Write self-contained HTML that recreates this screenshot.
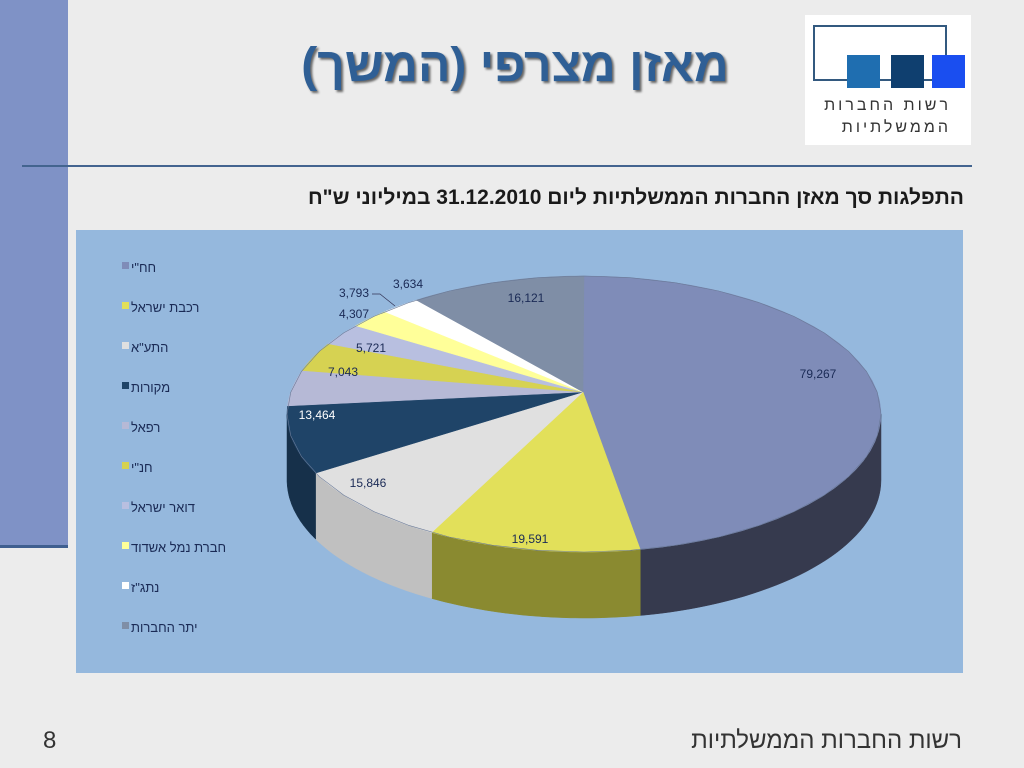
<!DOCTYPE html>
<html><head><meta charset="utf-8">
<style>
html,body{margin:0;padding:0}
body{width:1024px;height:768px;position:relative;overflow:hidden;background:#ececec;font-family:"Liberation Sans","DejaVu Sans",sans-serif}
.bar{position:absolute;left:0;top:0;width:68px;height:545px;background:#7f92c6;border-bottom:3px solid #3f5f8f}
.title{position:absolute;left:250px;top:38px;width:530px;text-align:center;font-size:48px;font-weight:bold;color:#2f5f95;direction:rtl;text-shadow:2px 2px 2px #666;font-family:"Liberation Sans Narrow","Liberation Sans",sans-serif}
.hr{position:absolute;left:22px;top:165px;width:950px;height:2px;background:#43648f}
.sub{position:absolute;right:60px;top:186px;font-size:21px;font-weight:bold;color:#1a1a1a;direction:rtl;white-space:nowrap}
.logo{position:absolute;left:805px;top:15px;width:166px;height:130px;background:#fff}
.foot{position:absolute;right:62px;top:727px;font-size:24px;color:#333;direction:rtl}
.num{position:absolute;left:43px;top:727px;font-size:24px;color:#333}
</style></head><body>
<div class="bar"></div>
<div class="title">מאזן מצרפי (המשך)</div>
<div class="logo">
<div style="position:absolute;left:8px;top:10px;width:130px;height:52px;border:2px solid #33597f"></div>
<div style="position:absolute;left:42px;top:40px;width:33px;height:33px;background:#1f6eb0"></div>
<div style="position:absolute;left:86px;top:40px;width:33px;height:33px;background:#0f3f6f"></div>
<div style="position:absolute;left:127px;top:40px;width:33px;height:33px;background:#1a4ef0"></div>
<div style="position:absolute;left:0px;top:80px;width:146px;text-align:right;direction:rtl;font-size:16px;letter-spacing:3px;color:#333;line-height:22px;white-space:nowrap">רשות החברות<br>הממשלתיות</div>
</div>
<div class="hr"></div>
<div class="sub">התפלגות סך מאזן החברות הממשלתיות ליום 31.12.2010 במיליוני ש"ח</div>
<svg id="c" width="1024" height="768" style="position:absolute;left:0;top:0"></svg>
<div class="num">8</div>
<div class="foot">רשות החברות הממשלתיות</div>
<script>
(function(){
var vals=[79267,19591,15846,13464,7043,5721,4307,3793,3634,16121];
var names=['חח"י','רכבת ישראל','התע"א ','מקורות','רפאל','חנ"י','דואר ישראל','חברת נמל אשדוד','נתג"ז','יתר החברות'];
var cols=['#7f8cb8','#e2e05a','#e0e0e0','#1f4468','#b6b9d6','#d6d252','#b8bfe0','#ffff99','#ffffff','#7f8ea6'];
var side=['#363a4e','#8a8a30','#c0c0c0','#16304a','#8a8da8','#8a8730','#8d93b0','#b0b060','#d0d0d0','#505868'];
var tot=vals.reduce(function(a,b){return a+b},0);
var cx=584,cy=414,rx=297,ry=138,D=66,ax=583,ay=392;
function P(t,dy){t=t*Math.PI/180;return [cx+rx*Math.sin(t),cy-ry*Math.cos(t)+(dy||0)];}
var s='<rect x="76" y="230" width="887" height="443" fill="#95b8dd"/>';
var angs=[0],c=0;vals.forEach(function(v){c+=v;angs.push(c/tot*360);});
function arc(a1,a2,dy){var p='',n=40;for(var i=0;i<=n;i++){var q=P(a1+(a2-a1)*i/n,dy);p+=(i?'L':'')+q[0].toFixed(1)+','+q[1].toFixed(1);}return p;}
for(var i=0;i<10;i++){var a1=Math.max(angs[i],90),a2=Math.min(angs[i+1],270);if(a2<=a1)continue;
var tp=arc(a1,a2,0),bt=arc(a2,a1,D);
s+='<path d="M'+tp+'L'+bt+'Z" fill="'+side[i]+'" stroke="'+side[i]+'" stroke-width="0.5"/>';}
for(var i=0;i<10;i++){s+='<path d="M'+ax+','+ay+'L'+arc(angs[i],angs[i+1],0)+'Z" fill="'+cols[i]+'" stroke="'+cols[i]+'" stroke-width="0.5"/>';}
s+='<path d="M'+arc(0,360,0)+'Z" fill="none" stroke="#6a7a98" stroke-width="0.6"/>';
var labs=[[818,378,'79,267'],[530,543,'19,591'],[368,487,'15,846'],[317,419,'13,464','#fff'],[343,376,'7,043'],[371,352,'5,721'],[354,318,'4,307'],[354,297,'3,793'],[408,288,'3,634'],[526,302,'16,121']];
labs.forEach(function(l){s+='<text x="'+l[0]+'" y="'+l[1]+'" font-size="12" text-anchor="middle" fill="'+(l[3]||'#1a2a55')+'">'+l[2]+'</text>';});
s+='<path d="M372,294 L380,294 L395,306" fill="none" stroke="#335" stroke-width="0.7"/>';
for(var i=0;i<10;i++){var y=268+i*40;s+='<rect x="122" y="'+(y-6)+'" width="7" height="7" fill="'+cols[i]+'"/><text x="131" y="'+(y+4)+'" font-size="13" fill="#1a2a55" direction="rtl" text-anchor="end">'+names[i]+'</text>';}
document.getElementById('c').innerHTML=s;
})();
</script>
</body></html>
